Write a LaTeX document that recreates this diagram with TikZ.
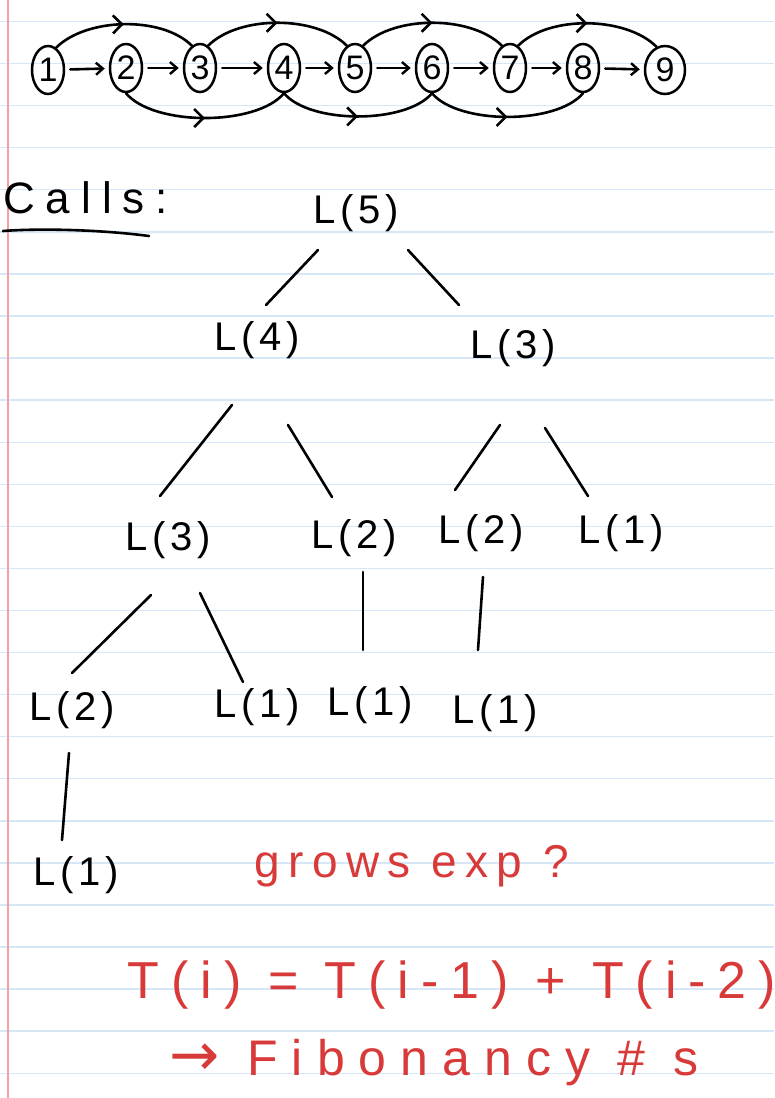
\documentclass[tikz,border=0pt]{standalone}
\usepackage{fontspec}
\setmainfont{Liberation Sans}
\newfontfamily\symfnt{DejaVu Sans}
\usetikzlibrary{shapes.geometric,decorations.markings,arrows.meta}
\definecolor{ruled}{HTML}{D6E8F7}
\definecolor{margin}{HTML}{F2A0A0}
\definecolor{penred}{HTML}{D83A3A}
\begin{document}
\begin{tikzpicture}[x=1pt,y=-1pt,
  pen/.style={line width=2.6pt, line cap=round, line join=round},
  lbl/.style={inner sep=0pt, font=\fontsize{40}{40}\selectfont\addfontfeature{LetterSpace=12}},
  num/.style={ellipse, draw, line width=2.5pt, minimum width=32, minimum height=48, inner sep=0pt,
              font=\fontsize{34}{34}\selectfont},
  step arrow/.style={pen, shorten <=5pt, shorten >=4pt, -{Straight Barb[length=7pt,width=12pt,line width=2.4pt]}},
  arcarrow/.style={pen, decoration={markings, mark=at position 0.5 with {\arrow{Straight Barb[length=9pt,width=18pt,line width=2.6pt]}}}, postaction={decorate}},
  redtxt/.style={inner sep=0pt, text=penred}
]
\useasboundingbox[fill=white] (0,0) rectangle (774,1098);
% ruled paper
\foreach \k in {0,...,25}{
  \draw[ruled, line width=1.4pt] (0,{21.5+42.07*\k}) -- (774,{21.5+42.07*\k});
}
\draw[margin, line width=1.6pt] (8,0) -- (8,1098);

% top graph
\node[num] (n1) at (48,70) {1};
\node[num] (n2) at (126,68) {2};
\node[num] (n3) at (200,68) {3};
\node[num] (n4) at (284,68) {4};
\node[num] (n5) at (355,68) {5};
\node[num] (n6) at (432,68) {6};
\node[num] (n7) at (510,68) {7};
\node[num] (n8) at (583,68) {8};
\node[num, minimum width=40] (n9) at (665,70) {9};
\foreach \a/\b in {n1/n2,n2/n3,n3/n4,n4/n5,n5/n6,n6/n7,n7/n8,n8/n9}{
  \draw[step arrow] (\a) -- (\b);
}
\draw[arcarrow] (n1.70) to[out=45,in=135,looseness=0.8] (n3.110);
\draw[arcarrow] (n3.70) to[out=45,in=135,looseness=0.8] (n5.110);
\draw[arcarrow] (n5.70) to[out=45,in=135,looseness=0.8] (n7.110);
\draw[arcarrow] (n7.70) to[out=45,in=135,looseness=0.8] (n9.110);
\draw[arcarrow] (n2.south) to[out=-50,in=-130,looseness=0.7] (n4.south);
\draw[arcarrow] (n4.south) to[out=-50,in=-130,looseness=0.7] (n6.south);
\draw[arcarrow] (n6.south) to[out=-50,in=-130,looseness=0.7] (n8.south);

% Calls:
\node[inner sep=0pt, anchor=west, font=\fontsize{44}{44}\selectfont\addfontfeature{LetterSpace=25}] (calls) at (3,198) {Calls:};
\draw[pen] ([shift={(0,33)}]calls.west) .. controls ([shift={(40,30)}]calls.west) and ([shift={(100,32)}]calls.west) .. ([shift={(146,38)}]calls.west);

% tree
\node[lbl] (L5) at (356,213) {L(5)};
\node[lbl] (L4) at (257,340) {L(4)};
\node[lbl] (L3r) at (513,348) {L(3)};
\node[lbl] (L3l) at (168,540) {L(3)};
\node[lbl] (L2a) at (354,538) {L(2)};
\node[lbl] (L2b) at (481,533) {L(2)};
\node[lbl] (L1a) at (621,533) {L(1)};
\node[lbl] (L2c) at (72,710) {L(2)};
\node[lbl] (L1b) at (257,707) {L(1)};
\node[lbl] (L1c) at (370,705) {L(1)};
\node[lbl] (L1d) at (495,713) {L(1)};
\node[lbl] (L1e) at (76,875) {L(1)};

\draw[pen] ([shift={(-38,37)}]L5.center) -- ([shift={(9,-35)}]L4.center);
\draw[pen] ([shift={(52,37)}]L5.center) -- ([shift={(-54,-43)}]L3r.center);
\draw[pen] ([shift={(-25,65)}]L4.center) -- ([shift={(-8,-44)}]L3l.center);
\draw[pen] ([shift={(31,85)}]L4.center) -- ([shift={(-22,-41)}]L2a.center);
\draw[pen] ([shift={(-13,77)}]L3r.center) -- ([shift={(-26,-43)}]L2b.center);
\draw[pen] ([shift={(32,80)}]L3r.center) -- ([shift={(-33,-37)}]L1a.center);
\draw[pen] ([shift={(-17,55)}]L3l.center) -- ([shift={(0,-37)}]L2c.center);
\draw[pen] ([shift={(32,53)}]L3l.center) -- ([shift={(-14,-25)}]L1b.center);
\draw[pen] ([shift={(9,34)}]L2a.center) -- ([shift={(-7,-55)}]L1c.center);
\draw[pen] ([shift={(2,44)}]L2b.center) -- ([shift={(-17,-63)}]L1d.center);
\draw[pen] ([shift={(-3,43)}]L2c.center) -- ([shift={(-14,-35)}]L1e.center);

% red notes
\node[redtxt, font=\fontsize{46}{46}\selectfont\addfontfeature{LetterSpace=18}] (grows) at (412,866) {grows exp ?};
\node[redtxt, font=\fontsize{52}{52}\selectfont\addfontfeature{LetterSpace=23}] (rec) at (452,985) {T(i) = T(i-1) + T(i-2)};
\node[redtxt, font=\fontsize{50}{50}\selectfont\addfontfeature{LetterSpace=28}] (fib) at (434,1063) {{\symfnt\fontsize{60}{60}\selectfont →} Fibonancy \# s};
\end{tikzpicture}
\end{document}
